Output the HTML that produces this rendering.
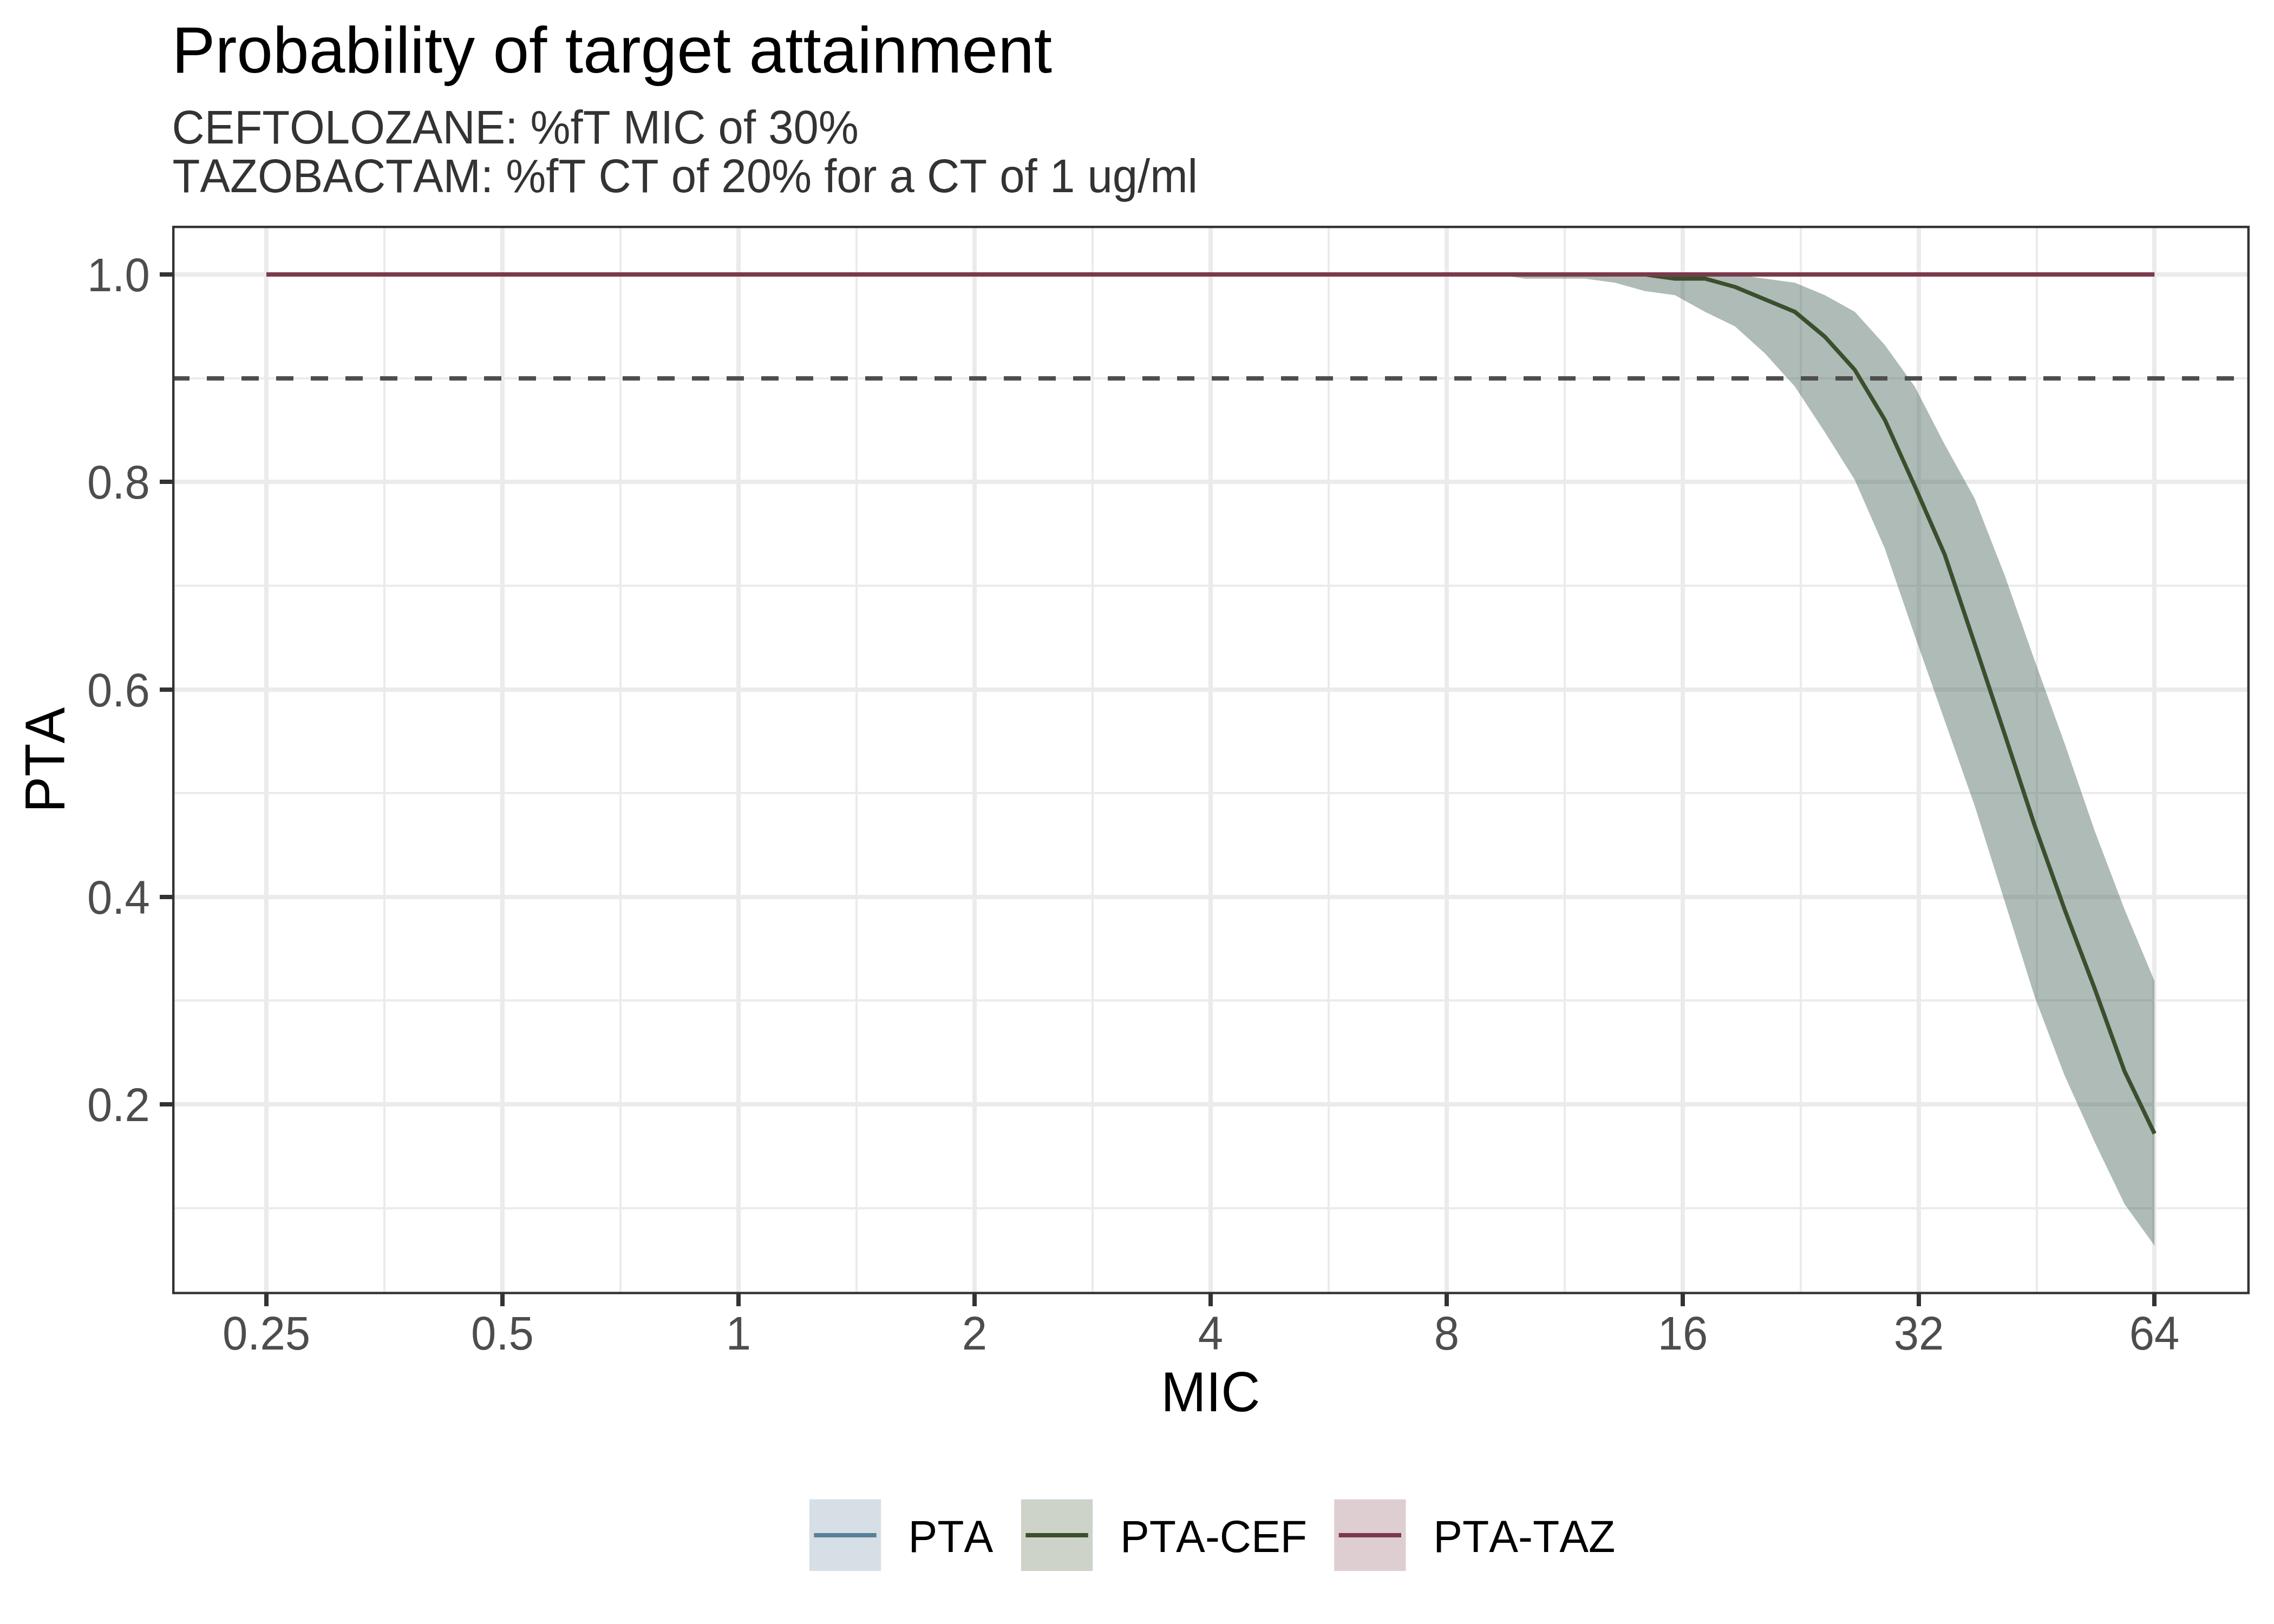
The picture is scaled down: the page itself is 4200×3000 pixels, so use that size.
<!DOCTYPE html>
<html lang="en"><head><meta charset="utf-8"><title>Probability of target attainment</title>
<style>html,body{margin:0;padding:0;background:#fff;}body{width:4200px;height:3000px;overflow:hidden;}svg{display:block;}text{font-family:"Liberation Sans",sans-serif;font-kerning:none;}</style>
</head><body>
<svg width="4200" height="3000" viewBox="0 0 4200 3000">
<rect x="0" y="0" width="4200" height="3000" fill="#ffffff"/>
<defs><clipPath id="pc"><rect x="318" y="417" width="3837" height="1973.8"/></clipPath></defs>
<g clip-path="url(#pc)">
<g stroke="#EBEBEB" stroke-width="4" fill="none">
<line x1="318" x2="4155" y1="699.00" y2="699.00"/>
<line x1="318" x2="4155" y1="1082.00" y2="1082.00"/>
<line x1="318" x2="4155" y1="1465.00" y2="1465.00"/>
<line x1="318" x2="4155" y1="1848.00" y2="1848.00"/>
<line x1="318" x2="4155" y1="2232.00" y2="2232.00"/>
<line x1="710.00" x2="710.00" y1="417" y2="2390.8"/>
<line x1="1146.00" x2="1146.00" y1="417" y2="2390.8"/>
<line x1="1582.00" x2="1582.00" y1="417" y2="2390.8"/>
<line x1="2018.00" x2="2018.00" y1="417" y2="2390.8"/>
<line x1="2454.00" x2="2454.00" y1="417" y2="2390.8"/>
<line x1="2890.00" x2="2890.00" y1="417" y2="2390.8"/>
<line x1="3326.00" x2="3326.00" y1="417" y2="2390.8"/>
<line x1="3762.00" x2="3762.00" y1="417" y2="2390.8"/>
</g>
<g stroke="#EBEBEB" stroke-width="8" fill="none">
<line x1="318" x2="4155" y1="507.00" y2="507.00"/>
<line x1="318" x2="4155" y1="890.00" y2="890.00"/>
<line x1="318" x2="4155" y1="1274.00" y2="1274.00"/>
<line x1="318" x2="4155" y1="1657.00" y2="1657.00"/>
<line x1="318" x2="4155" y1="2040.00" y2="2040.00"/>
<line x1="492.00" x2="492.00" y1="417" y2="2390.8"/>
<line x1="928.00" x2="928.00" y1="417" y2="2390.8"/>
<line x1="1364.00" x2="1364.00" y1="417" y2="2390.8"/>
<line x1="1800.00" x2="1800.00" y1="417" y2="2390.8"/>
<line x1="2236.00" x2="2236.00" y1="417" y2="2390.8"/>
<line x1="2672.00" x2="2672.00" y1="417" y2="2390.8"/>
<line x1="3108.00" x2="3108.00" y1="417" y2="2390.8"/>
<line x1="3544.00" x2="3544.00" y1="417" y2="2390.8"/>
<line x1="3979.00" x2="3979.00" y1="417" y2="2390.8"/>
</g>
<polygon points="492.00,507.00 547.35,507.00 602.71,507.00 658.06,507.00 713.42,507.00 768.77,507.00 824.12,507.00 879.48,507.00 934.83,507.00 990.19,507.00 1045.54,507.00 1100.89,507.00 1156.25,507.00 1211.60,507.00 1266.96,507.00 1322.31,507.00 1377.66,507.00 1433.02,507.00 1488.37,507.00 1543.73,507.00 1599.08,507.00 1654.43,507.00 1709.79,507.00 1765.14,507.00 1820.50,507.00 1875.85,507.00 1931.20,507.00 1986.56,507.00 2041.91,507.00 2097.27,507.00 2152.62,507.00 2207.97,507.00 2263.33,507.00 2318.68,507.00 2374.03,507.00 2429.39,507.00 2484.74,507.00 2540.10,507.00 2595.45,507.00 2650.80,507.00 2706.16,507.00 2761.51,507.00 2816.87,507.00 2872.22,507.00 2927.57,507.00 2982.93,507.00 3038.28,507.00 3093.64,507.00 3148.99,507.00 3204.34,507.00 3259.70,514.67 3315.05,522.33 3370.41,545.33 3425.76,576.00 3481.11,637.33 3536.47,714.00 3591.82,821.33 3647.18,921.00 3702.53,1062.83 3757.88,1220.00 3813.24,1373.33 3868.59,1534.34 3923.95,1680.00 3979.30,1812.25 3979.30,2301.00 3923.95,2224.34 3868.59,2109.34 3813.24,1986.67 3757.88,1841.00 3702.53,1664.67 3647.18,1488.34 3591.82,1331.17 3536.47,1174.00 3481.11,1013.00 3425.76,886.50 3370.41,798.33 3315.05,714.00 3259.70,652.67 3204.34,602.83 3148.99,576.00 3093.64,545.33 3038.28,537.67 2982.93,522.33 2927.57,514.67 2872.22,514.67 2816.87,514.67 2761.51,507.00 2706.16,507.00 2650.80,507.00 2595.45,507.00 2540.10,507.00 2484.74,507.00 2429.39,507.00 2374.03,507.00 2318.68,507.00 2263.33,507.00 2207.97,507.00 2152.62,507.00 2097.27,507.00 2041.91,507.00 1986.56,507.00 1931.20,507.00 1875.85,507.00 1820.50,507.00 1765.14,507.00 1709.79,507.00 1654.43,507.00 1599.08,507.00 1543.73,507.00 1488.37,507.00 1433.02,507.00 1377.66,507.00 1322.31,507.00 1266.96,507.00 1211.60,507.00 1156.25,507.00 1100.89,507.00 1045.54,507.00 990.19,507.00 934.83,507.00 879.48,507.00 824.12,507.00 768.77,507.00 713.42,507.00 658.06,507.00 602.71,507.00 547.35,507.00 492.00,507.00" fill="#5A7F9A" fill-opacity="0.25"/>
<polygon points="492.00,507.00 547.35,507.00 602.71,507.00 658.06,507.00 713.42,507.00 768.77,507.00 824.12,507.00 879.48,507.00 934.83,507.00 990.19,507.00 1045.54,507.00 1100.89,507.00 1156.25,507.00 1211.60,507.00 1266.96,507.00 1322.31,507.00 1377.66,507.00 1433.02,507.00 1488.37,507.00 1543.73,507.00 1599.08,507.00 1654.43,507.00 1709.79,507.00 1765.14,507.00 1820.50,507.00 1875.85,507.00 1931.20,507.00 1986.56,507.00 2041.91,507.00 2097.27,507.00 2152.62,507.00 2207.97,507.00 2263.33,507.00 2318.68,507.00 2374.03,507.00 2429.39,507.00 2484.74,507.00 2540.10,507.00 2595.45,507.00 2650.80,507.00 2706.16,507.00 2761.51,507.00 2816.87,507.00 2872.22,507.00 2927.57,507.00 2982.93,507.00 3038.28,507.00 3093.64,507.00 3148.99,507.00 3204.34,507.00 3259.70,514.67 3315.05,522.33 3370.41,545.33 3425.76,576.00 3481.11,637.33 3536.47,714.00 3591.82,821.33 3647.18,921.00 3702.53,1062.83 3757.88,1220.00 3813.24,1373.33 3868.59,1534.34 3923.95,1680.00 3979.30,1812.25 3979.30,2301.00 3923.95,2224.34 3868.59,2109.34 3813.24,1986.67 3757.88,1841.00 3702.53,1664.67 3647.18,1488.34 3591.82,1331.17 3536.47,1174.00 3481.11,1013.00 3425.76,886.50 3370.41,798.33 3315.05,714.00 3259.70,652.67 3204.34,602.83 3148.99,576.00 3093.64,545.33 3038.28,537.67 2982.93,522.33 2927.57,514.67 2872.22,514.67 2816.87,514.67 2761.51,507.00 2706.16,507.00 2650.80,507.00 2595.45,507.00 2540.10,507.00 2484.74,507.00 2429.39,507.00 2374.03,507.00 2318.68,507.00 2263.33,507.00 2207.97,507.00 2152.62,507.00 2097.27,507.00 2041.91,507.00 1986.56,507.00 1931.20,507.00 1875.85,507.00 1820.50,507.00 1765.14,507.00 1709.79,507.00 1654.43,507.00 1599.08,507.00 1543.73,507.00 1488.37,507.00 1433.02,507.00 1377.66,507.00 1322.31,507.00 1266.96,507.00 1211.60,507.00 1156.25,507.00 1100.89,507.00 1045.54,507.00 990.19,507.00 934.83,507.00 879.48,507.00 824.12,507.00 768.77,507.00 713.42,507.00 658.06,507.00 602.71,507.00 547.35,507.00 492.00,507.00" fill="#3C4F2D" fill-opacity="0.25"/>
<polyline points="492.00,507.00 547.35,507.00 602.71,507.00 658.06,507.00 713.42,507.00 768.77,507.00 824.12,507.00 879.48,507.00 934.83,507.00 990.19,507.00 1045.54,507.00 1100.89,507.00 1156.25,507.00 1211.60,507.00 1266.96,507.00 1322.31,507.00 1377.66,507.00 1433.02,507.00 1488.37,507.00 1543.73,507.00 1599.08,507.00 1654.43,507.00 1709.79,507.00 1765.14,507.00 1820.50,507.00 1875.85,507.00 1931.20,507.00 1986.56,507.00 2041.91,507.00 2097.27,507.00 2152.62,507.00 2207.97,507.00 2263.33,507.00 2318.68,507.00 2374.03,507.00 2429.39,507.00 2484.74,507.00 2540.10,507.00 2595.45,507.00 2650.80,507.00 2706.16,507.00 2761.51,507.00 2816.87,507.00 2872.22,507.00 2927.57,507.00 2982.93,507.00 3038.28,507.00 3093.64,514.67 3148.99,514.67 3204.34,530.00 3259.70,553.00 3315.05,576.00 3370.41,622.00 3425.76,683.33 3481.11,775.33 3536.47,898.00 3591.82,1024.50 3647.18,1189.33 3702.53,1356.08 3757.88,1524.75 3813.24,1680.00 3868.59,1825.67 3923.95,1979.00 3979.30,2094.00" fill="none" stroke="#5A7F9A" stroke-width="6.5" stroke-linejoin="round"/>
<polyline points="492.00,507.00 547.35,507.00 602.71,507.00 658.06,507.00 713.42,507.00 768.77,507.00 824.12,507.00 879.48,507.00 934.83,507.00 990.19,507.00 1045.54,507.00 1100.89,507.00 1156.25,507.00 1211.60,507.00 1266.96,507.00 1322.31,507.00 1377.66,507.00 1433.02,507.00 1488.37,507.00 1543.73,507.00 1599.08,507.00 1654.43,507.00 1709.79,507.00 1765.14,507.00 1820.50,507.00 1875.85,507.00 1931.20,507.00 1986.56,507.00 2041.91,507.00 2097.27,507.00 2152.62,507.00 2207.97,507.00 2263.33,507.00 2318.68,507.00 2374.03,507.00 2429.39,507.00 2484.74,507.00 2540.10,507.00 2595.45,507.00 2650.80,507.00 2706.16,507.00 2761.51,507.00 2816.87,507.00 2872.22,507.00 2927.57,507.00 2982.93,507.00 3038.28,507.00 3093.64,514.67 3148.99,514.67 3204.34,530.00 3259.70,553.00 3315.05,576.00 3370.41,622.00 3425.76,683.33 3481.11,775.33 3536.47,898.00 3591.82,1024.50 3647.18,1189.33 3702.53,1356.08 3757.88,1524.75 3813.24,1680.00 3868.59,1825.67 3923.95,1979.00 3979.30,2094.00" fill="none" stroke="#3C4F2D" stroke-width="7.5" stroke-linejoin="round"/>
<line x1="492.00" x2="3979.30" y1="507.00" y2="507.00" stroke="#7A3A4B" stroke-width="8"/>
<line x1="318" x2="4155" y1="699.00" y2="699.00" stroke="#4D4D4D" stroke-width="8" stroke-dasharray="32 32"/>
<rect x="318" y="417" width="3837" height="1973.8" fill="none" stroke="#333333" stroke-width="8.8"/>
</g>
<g stroke="#333333" stroke-width="8" fill="none">
<line x1="295" x2="319" y1="507.00" y2="507.00"/>
<line x1="295" x2="319" y1="890.00" y2="890.00"/>
<line x1="295" x2="319" y1="1274.00" y2="1274.00"/>
<line x1="295" x2="319" y1="1657.00" y2="1657.00"/>
<line x1="295" x2="319" y1="2040.00" y2="2040.00"/>
<line x1="492.00" x2="492.00" y1="2389.8" y2="2413"/>
<line x1="928.00" x2="928.00" y1="2389.8" y2="2413"/>
<line x1="1364.00" x2="1364.00" y1="2389.8" y2="2413"/>
<line x1="1800.00" x2="1800.00" y1="2389.8" y2="2413"/>
<line x1="2236.00" x2="2236.00" y1="2389.8" y2="2413"/>
<line x1="2672.00" x2="2672.00" y1="2389.8" y2="2413"/>
<line x1="3108.00" x2="3108.00" y1="2389.8" y2="2413"/>
<line x1="3544.00" x2="3544.00" y1="2389.8" y2="2413"/>
<line x1="3979.00" x2="3979.00" y1="2389.8" y2="2413"/>
</g>
<text transform="translate(276.80 538.30) scale(1 1.0412)" font-size="83.33" fill="#4D4D4D" text-anchor="end">1.0</text>
<text transform="translate(276.80 921.30) scale(1 1.0412)" font-size="83.33" fill="#4D4D4D" text-anchor="end">0.8</text>
<text transform="translate(276.80 1305.30) scale(1 1.0412)" font-size="83.33" fill="#4D4D4D" text-anchor="end">0.6</text>
<text transform="translate(276.80 1688.30) scale(1 1.0412)" font-size="83.33" fill="#4D4D4D" text-anchor="end">0.4</text>
<text transform="translate(276.80 2071.30) scale(1 1.0412)" font-size="83.33" fill="#4D4D4D" text-anchor="end">0.2</text>
<text transform="translate(492.00 2493.30) scale(1 1.0412)" font-size="83.33" fill="#4D4D4D" text-anchor="middle">0.25</text>
<text transform="translate(928.00 2493.30) scale(1 1.0412)" font-size="83.33" fill="#4D4D4D" text-anchor="middle">0.5</text>
<text transform="translate(1364.00 2493.30) scale(1 1.0412)" font-size="83.33" fill="#4D4D4D" text-anchor="middle">1</text>
<text transform="translate(1800.00 2493.30) scale(1 1.0412)" font-size="83.33" fill="#4D4D4D" text-anchor="middle">2</text>
<text transform="translate(2236.00 2493.30) scale(1 1.0412)" font-size="83.33" fill="#4D4D4D" text-anchor="middle">4</text>
<text transform="translate(2672.00 2493.30) scale(1 1.0412)" font-size="83.33" fill="#4D4D4D" text-anchor="middle">8</text>
<text transform="translate(3108.00 2493.30) scale(1 1.0412)" font-size="83.33" fill="#4D4D4D" text-anchor="middle">16</text>
<text transform="translate(3544.00 2493.30) scale(1 1.0412)" font-size="83.33" fill="#4D4D4D" text-anchor="middle">32</text>
<text transform="translate(3979.00 2493.30) scale(1 1.0412)" font-size="83.33" fill="#4D4D4D" text-anchor="middle">64</text>
<text transform="translate(2235.90 2607.00) scale(1 1.0412)" font-size="100" fill="#000" text-anchor="middle">MIC</text>
<text transform="translate(119.20 1403.90) rotate(-90) scale(1 1.0412)" font-size="100" fill="#000" text-anchor="middle">PTA</text>
<text x="317.5" y="133.5" font-size="119.87" fill="#000">Probability of target attainment</text>
<text transform="translate(317.50 264.70) scale(1 1.0412)" font-size="83.33" fill="#333333">CEFTOLOZANE: %fT MIC of 30%</text>
<text transform="translate(318.60 355.10) scale(1 1.0412)" font-size="83.33" fill="#333333">TAZOBACTAM: %fT CT of 20% for a CT of 1 ug/ml</text>
<rect x="1494.90" y="2769.70" width="132.30" height="132.30" fill="#5A7F9A" fill-opacity="0.25"/>
<line x1="1503.40" x2="1618.70" y1="2836" y2="2836" stroke="#5A7F9A" stroke-width="8"/>
<text transform="translate(1677.40 2867.20) scale(1 1.0412)" font-size="80.7" fill="#000">PTA</text>
<rect x="1885.90" y="2769.70" width="132.30" height="132.30" fill="#3C4F2D" fill-opacity="0.25"/>
<line x1="1894.40" x2="2009.70" y1="2836" y2="2836" stroke="#3C4F2D" stroke-width="8"/>
<text transform="translate(2069.00 2867.20) scale(1 1.0412)" font-size="80.7" fill="#000">PTA-CEF</text>
<rect x="2464.20" y="2769.70" width="132.30" height="132.30" fill="#7A3A4B" fill-opacity="0.25"/>
<line x1="2472.70" x2="2588.00" y1="2836" y2="2836" stroke="#7A3A4B" stroke-width="8"/>
<text transform="translate(2647.20 2867.20) scale(1 1.0412)" font-size="80.7" fill="#000">PTA-TAZ</text>
</svg>
</body></html>
